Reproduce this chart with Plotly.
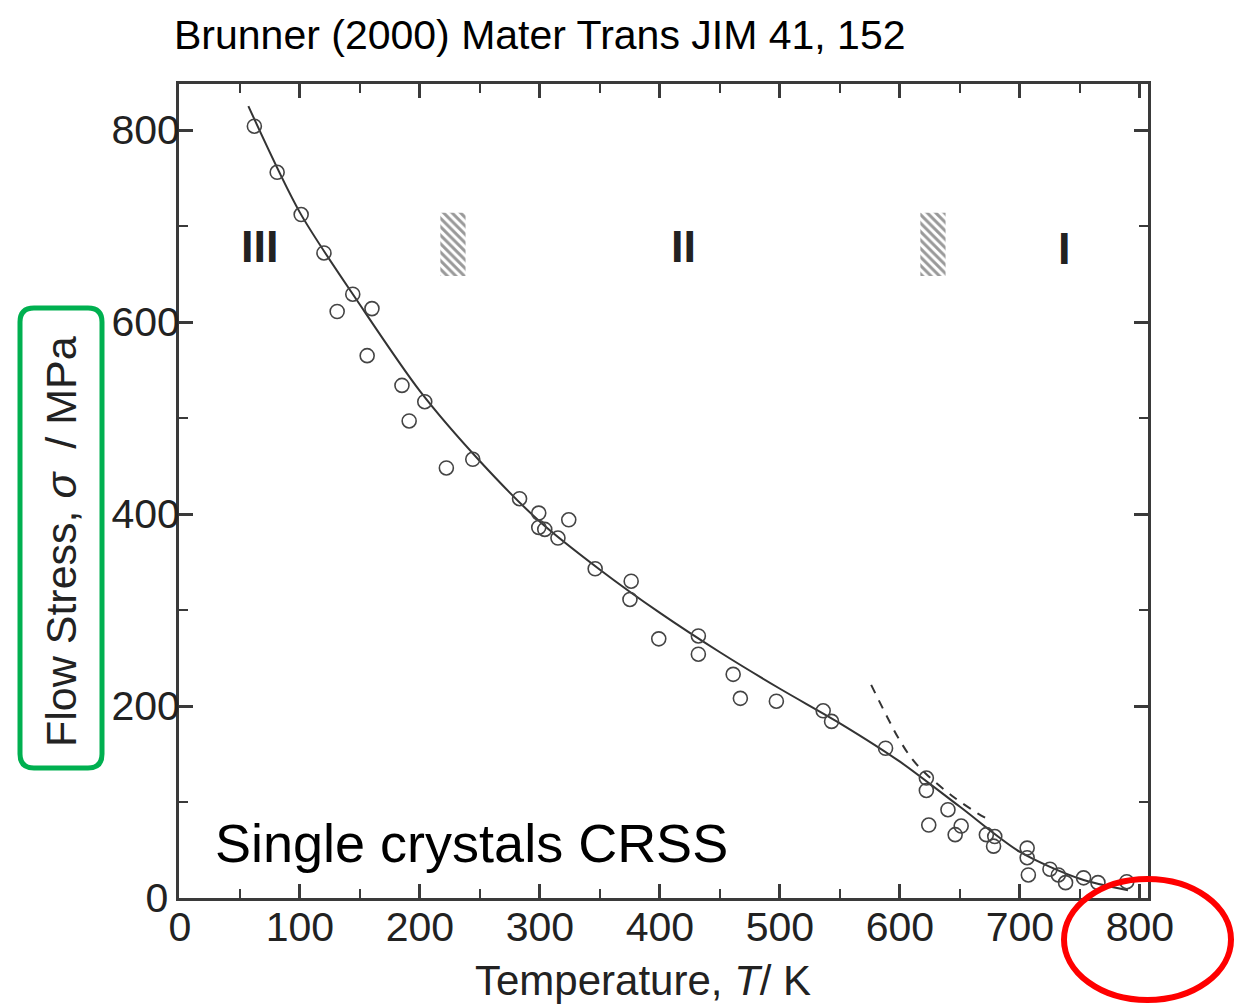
import plotly.graph_objects as go

# ---------------- data ----------------
temp_K = [62, 81, 101, 120, 144, 131, 160, 156, 185, 204, 191, 244, 222, 283,
          299, 299, 304, 324, 315, 346, 376, 375, 399, 432, 432, 461, 467, 497,
          536, 543, 588, 622, 622, 624, 640, 646, 651, 672, 679, 678, 706, 706,
          707, 725, 732, 738, 753, 765, 789]
stress_MPa = [804, 756, 712, 672, 629, 611, 614, 565, 534, 517, 497, 457, 448, 416,
              401, 386, 384, 394, 375, 343, 330, 311, 270, 273, 254, 233, 208, 205,
              195, 184, 156, 125, 112, 76, 92, 66, 75, 66, 64, 54, 52, 42,
              24, 30, 24, 16, 21, 16, 17]

fit_T = [57, 100, 150, 200, 250, 300, 350, 400, 450, 500, 550, 600, 650, 700, 750, 790]
fit_S = [825, 714, 618, 528, 455, 392, 342, 297, 256, 218, 182, 142, 95, 48, 20, 8]

dash_T = [576, 590, 599, 610, 622, 645, 665, 672]
dash_S = [222, 187, 166, 145, 129, 105, 88, 83]

regime_labels = ["III", "II", "I"]
regime_T = [67, 420, 737]
regime_S = [679, 679, 677]

hatch_T = [(217, 238), (617, 638)]
hatch_S = (648, 714)

x_ticks = [0, 100, 200, 300, 400, 500, 600, 700, 800]
x_minor = [50, 150, 250, 350, 450, 550, 650, 750]
y_ticks = [0, 200, 400, 600, 800]
y_minor = [100, 300, 500, 700]

# ---------------- figure ----------------
W, H = 1235, 1005
PX_L, PX_R, PX_T, PX_B = 179, 1148, 84, 898


def px(x):
    return (x - PX_L) / (PX_R - PX_L)


def py(y):
    return (PX_B - y) / (PX_B - PX_T)


FONT = "Liberation Sans, Arial, Helvetica, sans-serif"

fig = go.Figure()

for (t0, t1) in hatch_T:
    fig.add_trace(go.Scatter(
        x=[t0, t1, t1, t0, t0], y=[hatch_S[0], hatch_S[0], hatch_S[1], hatch_S[1], hatch_S[0]],
        mode="lines", fill="toself", line=dict(width=0, color="rgba(0,0,0,0)"),
        fillcolor="white",
        fillpattern=dict(shape="\\", size=6, solidity=0.5, fgcolor="#333333", bgcolor="white"),
        showlegend=False, hoverinfo="skip"))

fig.add_trace(go.Scatter(x=fit_T, y=fit_S, mode="lines",
                         line=dict(color="#333333", width=2, shape="spline", smoothing=0.8),
                         showlegend=False))
fig.add_trace(go.Scatter(x=dash_T, y=dash_S, mode="lines",
                         line=dict(color="#333333", width=2, dash="9px,8px", shape="spline"),
                         showlegend=False))
fig.add_trace(go.Scatter(x=temp_K, y=stress_MPa, mode="markers",
                         marker=dict(symbol="circle-open", size=14, color="#444444",
                                     line=dict(width=1.6, color="#444444")),
                         showlegend=False))

axis_common = dict(
    showgrid=False, zeroline=False, showline=True, linewidth=3, linecolor="#3a3a3a",
    mirror="allticks", ticks="inside", ticklen=14, tickwidth=2.5, tickcolor="#3a3a3a",
    tickfont=dict(family=FONT, size=41, color="#222222"),
)

fig.update_xaxes(range=[-0.8, 806.7], tickmode="array", tickvals=x_ticks,
                 ticktext=[str(v) for v in x_ticks], ticklabelstandoff=-9,
                 minor=dict(tickmode="array", tickvals=x_minor, ticks="inside", ticklen=9,
                            tickwidth=2, tickcolor="#3a3a3a"),
                 **axis_common)
fig.update_yaxes(range=[0, 848], tickmode="array", tickvals=y_ticks,
                 ticktext=[(str(v) + "&nbsp;") if v == 0 else str(v) for v in y_ticks],
                 ticklabelstandoff=-12,
                 minor=dict(tickmode="array", tickvals=y_minor, ticks="inside", ticklen=9,
                            tickwidth=2, tickcolor="#3a3a3a"),
                 **axis_common)

ann = []
ann.append(dict(text="Brunner (2000) Mater Trans JIM 41, 152", x=px(540), y=py(35),
                xref="paper", yref="paper", showarrow=False, xanchor="center", yanchor="middle",
                font=dict(family=FONT, size=41, color="black")))
ann.append(dict(text="Single crystals CRSS", x=px(471), y=py(843),
                xref="paper", yref="paper", showarrow=False, xanchor="center", yanchor="middle",
                font=dict(family=FONT, size=54, color="black")))
ann.append(dict(text="Temperature, <i>T</i>/ K", x=px(643), y=py(980),
                xref="paper", yref="paper", showarrow=False, xanchor="center", yanchor="middle",
                font=dict(family=FONT, size=42, color="#222222")))
ann.append(dict(text="Flow Stress, <i>σ</i>  / MPa", x=px(61), y=py(542), textangle=-90,
                xref="paper", yref="paper", showarrow=False, xanchor="center", yanchor="middle",
                font=dict(family=FONT, size=43, color="#222222")))
for lab, t, s in zip(regime_labels, regime_T, regime_S):
    ann.append(dict(text=f"<b>{lab}</b>", x=t, y=s, xref="x", yref="y", showarrow=False,
                    xanchor="center", yanchor="middle",
                    font=dict(family=FONT, size=45, color="#222222")))

# rounded green box around y-axis title
L, R, T, B, r = 20, 102, 308, 768, 14
path = (f"M {px(L + r)},{py(T)} L {px(R - r)},{py(T)} Q {px(R)},{py(T)} {px(R)},{py(T + r)} "
        f"L {px(R)},{py(B - r)} Q {px(R)},{py(B)} {px(R - r)},{py(B)} "
        f"L {px(L + r)},{py(B)} Q {px(L)},{py(B)} {px(L)},{py(B - r)} "
        f"L {px(L)},{py(T + r)} Q {px(L)},{py(T)} {px(L + r)},{py(T)} Z")
shapes = [
    dict(type="path", path=path, xref="paper", yref="paper",
         line=dict(color="#00b050", width=5), layer="above"),
    dict(type="circle", xref="paper", yref="paper", x0=px(1064), x1=px(1231),
         y0=py(1000), y1=py(879), line=dict(color="#ff0000", width=6), layer="above"),
]

fig.update_layout(
    width=W, height=H, autosize=False,
    margin=dict(l=PX_L, r=W - PX_R, t=PX_T, b=H - PX_B, pad=0),
    paper_bgcolor="white", plot_bgcolor="white",
    annotations=ann, shapes=shapes, showlegend=False,
)

fig.write_html("out.html")
